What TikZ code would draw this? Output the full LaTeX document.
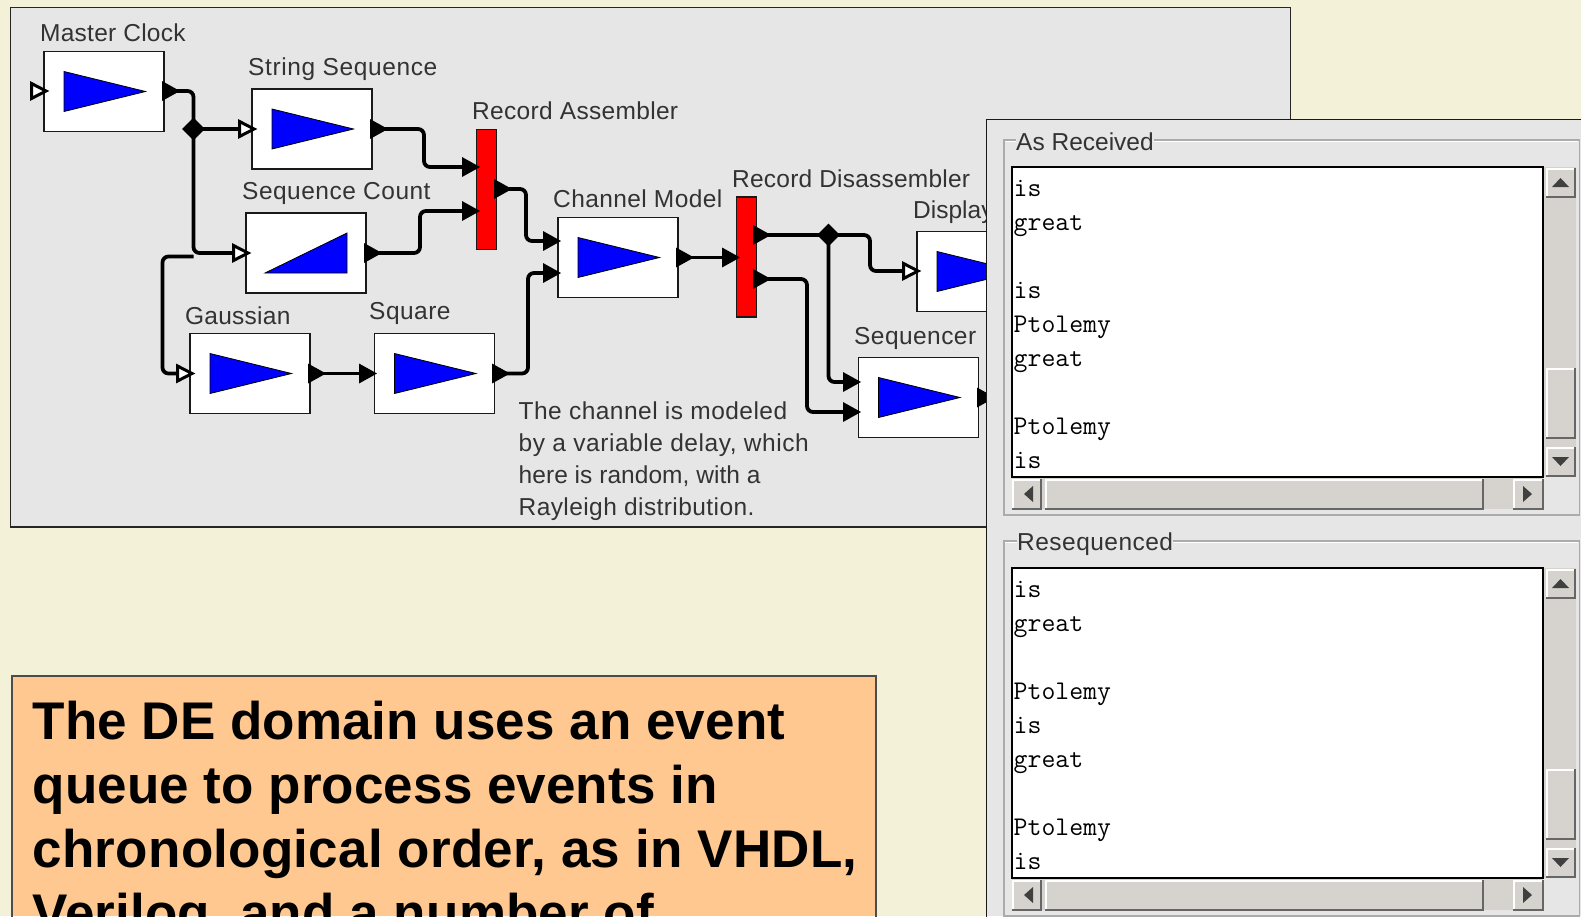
\documentclass[tikz,border=0pt]{standalone}
\usepackage{fontspec}
\setmainfont{Liberation Sans}
\usetikzlibrary{shapes.geometric}
\definecolor{bgc}{HTML}{F3F1D7}
\definecolor{panelc}{HTML}{E6E6E6}
\definecolor{orangec}{HTML}{FFC890}
\definecolor{scrollc}{HTML}{D6D3CE}
\definecolor{labelc}{HTML}{333333}
\definecolor{framec}{HTML}{ABABAB}
\newcommand{\ls}[2]{{\addfontfeature{LetterSpace=#1}#2}}
\tikzset{
  x=1pt,y=-1pt,
  lbl/.style={anchor=base west,inner sep=0pt,text=labelc,font=\fontsize{24.5}{30}\selectfont},
  mono/.style={anchor=base west,inner sep=0pt,text=black,font=\ttfamily\fontsize{27}{30}\selectfont},
  bigtext/.style={anchor=base west,inner sep=0pt,font=\bfseries\fontsize{53}{64}\selectfont},
  blockbox/.style={draw=black!90,line width=1.8pt,fill=white,minimum width=120pt,minimum height=80pt,inner sep=0pt},
  redbox/.style={draw=black!90,line width=1.8pt,fill=red,minimum width=20pt,minimum height=120pt,inner sep=0pt},
  glyph/.style={draw=black,line width=.8pt,fill=blue},
  wire/.style={draw=black,line width=3.8pt,rounded corners=6pt},
  junction/.style={diamond,fill=black,inner sep=0pt,minimum size=23pt},
  edgeframe/.style={draw=framec,line width=1.5pt}
}
\newcommand{\triblock}[3]{%
  \node[blockbox] (#1) at (#2,#3) {};
  \draw[glyph,shift={(#1.center)}] (-40,-20) -- (41.5,0) -- (-40,20) -- cycle;
}
\newcommand{\whiteport}[3]{%
  \coordinate (#1) at (#2,#3);
  \draw[shift={(#1)},draw=black,line width=3pt,fill=white,line join=miter] (1.5,-7.5) -- (16,0) -- (1.5,7.5) -- cycle;
}
\newcommand{\blackport}[3]{%
  \coordinate (#1) at (#2,#3);
  \fill[shift={(#1)},black] (0,-10) -- (18,0) -- (0,10) -- cycle;
}
\newcommand{\raised}[4]{%
  \fill[scrollc] (#1,#2) rectangle (#3,#4);
  \draw[white,line width=1.4pt] (#1+1,#4-1) -- (#1+1,#2+1) -- (#3-1,#2+1);
  \draw[black!60,line width=2.2pt] (#1,#4) -- (#3,#4) -- (#3,#2);
}
\newcommand{\scrollgroup}[1]{%
\begin{scope}[yshift=-#1pt]
  \draw[edgeframe] (1004,140) rectangle (1579.5,515);
  \draw[white,line width=.8pt] (1005.3,141.3) -- (1578,141.3);
  \fill[scrollc] (1543,167) rectangle (1576,477);
  \draw[black,line width=2pt,fill=white] (1011.5,166.5) rectangle (1543,477);
  \raised{1546}{168}{1575}{197}
  \raised{1546}{368}{1575}{438}
  \raised{1546}{447}{1575}{476}
  \fill[black!75] (1552,187) -- (1560.5,178) -- (1569,187) -- cycle;
  \fill[black!75] (1552,457) -- (1560.5,466) -- (1569,457) -- cycle;
  \fill[scrollc] (1012,478) rectangle (1543,509);
  \raised{1012}{479}{1041}{509}
  \raised{1045}{479}{1483}{509}
  \raised{1513}{479}{1543}{509}
  \fill[black!75] (1033,486) -- (1024,494) -- (1033,502) -- cycle;
  \fill[black!75] (1523,486) -- (1532,494) -- (1523,502) -- cycle;
\end{scope}
}
\begin{document}
\begin{tikzpicture}
\clip (0,0) rectangle (1581,916);
\useasboundingbox (0,0) rectangle (1581,916);
\fill[bgc] (0,0) rectangle (1581,916);
\draw[fill=panelc,draw=black!85,line width=1.6pt] (10.5,7.5) rectangle (1290.5,527);

\coordinate (vm) at (193.5,0);
\coordinate (vg) at (162.5,0);
\coordinate (vs) at (424,0);
\coordinate (vc) at (420,0);
\coordinate (va) at (526,0);
\coordinate (vq) at (528,0);
\coordinate (vd) at (870,0);
\coordinate (vj) at (828.5,0);
\coordinate (vr) at (807,0);
\coordinate (hg) at (0,256.5);

\triblock{master}{104}{91.5}
\triblock{stringseq}{312}{129}
\node[blockbox] (seqcount) at (306,253) {};
\draw[glyph,shift={(seqcount.center)}] (-41,20) -- (41,-20) -- (41,20) -- cycle;
\triblock{gaussian}{250}{373.5}
\triblock{square}{434.5}{373.5}
\triblock{channel}{618}{257.5}
\triblock{display}{977}{271.5}
\triblock{sequencer}{918.5}{397.5}
\node[redbox] (assembler) at (486.5,189.5) {};
\node[redbox] (disassembler) at (746.5,257) {};

\coordinate (mout) at (162,91);
\coordinate (sin) at (238,129);
\coordinate (sout) at (370,129);
\coordinate (cin) at (232,253);
\coordinate (cout) at (364,253);
\coordinate (ain1) at (462,167);
\coordinate (ain2) at (462,211);
\coordinate (aout) at (494,189);
\coordinate (gin) at (176,373.5);
\coordinate (gout) at (308,373.5);
\coordinate (qin) at (359,373.5);
\coordinate (qout) at (492,373.5);
\coordinate (chin1) at (543,241);
\coordinate (chin2) at (543,273);
\coordinate (chout) at (676,257.5);
\coordinate (din) at (722,257.5);
\coordinate (dout1) at (753,235);
\coordinate (dout2) at (753,279);
\coordinate (dspin) at (902,271);
\coordinate (qin1) at (843,382);
\coordinate (qin2) at (843,412);

\node[junction] (j1) at (193.5,129) {};
\node[junction] (j2) at (828.5,235) {};

\draw[wire] (mout) -- (vm |- mout) -- (vm |- cin) -- (cin);
\draw[wire] (j1.center) -- (sin);
\draw[wire] (vm |- hg) -- (vg |- hg) -- (vg |- gin) -- (gin);
\draw[wire] (sout) -- (vs |- sout) -- (vs |- ain1) -- (ain1);
\draw[wire] (cout) -- (vc |- cout) -- (vc |- ain2) -- (ain2);
\draw[wire] (aout) -- (va |- aout) -- (va |- chin1) -- (chin1);
\draw[wire] (gout) -- (qin);
\draw[wire] (qout) -- (vq |- qout) -- (vq |- chin2) -- (chin2);
\draw[wire] (chout) -- (din);
\draw[wire] (dout1) -- (vd |- dout1) -- (vd |- dspin) -- (dspin);
\draw[wire] (j2.center) -- (vj |- qin1) -- (qin1);
\draw[wire] (dout2) -- (vr |- dout2) -- (vr |- qin2) -- (qin2);

\whiteport{min}{30}{91}
\blackport{mout}{162}{91}
\whiteport{sin}{238}{129}
\blackport{sout}{370}{129}
\whiteport{cin}{232}{253}
\blackport{cout}{364}{253}
\blackport{ain1}{462}{167}
\blackport{ain2}{462}{211}
\blackport{aout}{494}{189}
\whiteport{gin}{176}{373.5}
\blackport{gout}{308}{373.5}
\blackport{qin}{359}{373.5}
\blackport{qout}{492}{373.5}
\blackport{chin1}{543}{241}
\blackport{chin2}{543}{273}
\blackport{chout}{676}{257.5}
\blackport{din}{722}{257.5}
\blackport{dout1}{753}{235}
\blackport{dout2}{753}{279}
\whiteport{dspin}{902}{271}
\blackport{qin1}{843}{382}
\blackport{qin2}{843}{412}
\blackport{qout2}{977}{397.5}

\node[lbl] (lmaster) at (40,41) {\ls{1}{Master Clock}};
\node[lbl] (lstring) at (248,75) {\ls{2.5}{String Sequence}};
\node[lbl] (lassembler) at (472,119) {\ls{1.3}{Record Assembler}};
\node[lbl] (lcount) at (242,199) {\ls{2}{Sequence Count}};
\node[lbl] (lgauss) at (185,324) {\ls{1}{Gaussian}};
\node[lbl] (lsquare) at (369,319) {\ls{2}{Square}};
\node[lbl] (lchannel) at (553,207) {\ls{1.6}{Channel Model}};
\node[lbl] (ldis) at (732,187) {\ls{.9}{Record Disassembler}};
\node[lbl] (ldisp) at (913,218) {Display};
\node[lbl] (lseq) at (854,344) {\ls{1.8}{Sequencer}};
\node[lbl] (note1) at (518.5,419) {\ls{1.9}{The channel is modeled}};
\node[lbl] (note2) at (518.5,451) {\ls{2.2}{by a variable delay, which}};
\node[lbl] (note3) at (518.5,483) {\ls{.2}{here is random, with a}};
\node[lbl] (note4) at (518.5,515) {\ls{1.7}{Rayleigh distribution.}};

\fill[panelc] (986.5,119.5) rectangle (1581,916);
\draw[draw=black!90,line width=1.6pt] (986.5,1000) -- (986.5,119.5) -- (1600,119.5);
\scrollgroup{0}
\scrollgroup{401}
\node[lbl,fill=panelc] (lasrec) at (1016,150) {As Received};
\node[lbl,fill=panelc] (lreseq) at (1017,550) {\ls{1.9}{Resequenced}};
\foreach \n/\yy/\t in {a1/196/is,a2/230/great,a3/298/is,a4/332/Ptolemy,a5/366/great,a6/434/Ptolemy,a7/468/is,
                       b1/597/is,b2/631/great,b3/699/Ptolemy,b4/733/is,b5/767/great,b6/835/Ptolemy,b7/869/is}
  \node[mono] (\n) at (1013.5,\yy) {\addfontfeature{FakeBold=0.3}\t};

\fill[orangec] (12,676) rectangle (876,916);
\draw[draw=black!70,line width=1.2pt] (12,1000) -- (12,676) -- (876,676) -- (876,1000);
\node[bigtext] (t1) at (32.5,739.5) {\ls{.13}{The DE domain uses an event}};
\node[bigtext] (t2) at (32.5,803.5) {\ls{.15}{queue to process events in}};
\node[bigtext] (t3) at (32.5,867.5) {\ls{.43}{chronological order, as in VHDL,}};
\node[bigtext] (t4) at (32.5,931.5) {\ls{.3}{Verilog, and a number of}};
\end{tikzpicture}
\end{document}
